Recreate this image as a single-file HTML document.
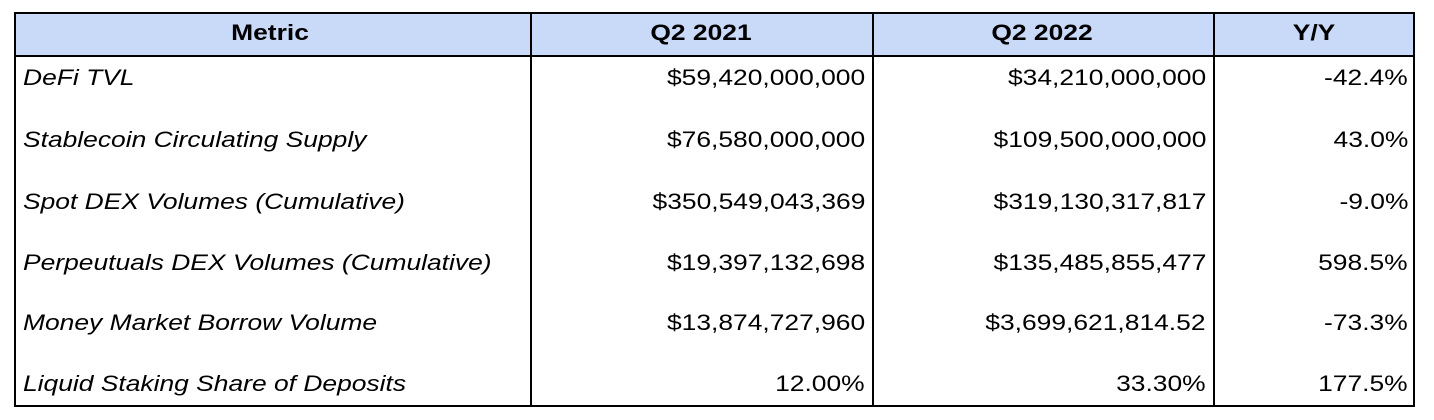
<!DOCTYPE html>
<html><head><style>
body{margin:0;width:1434px;height:420px;background:#fff;font-family:"Liberation Sans",sans-serif;position:relative;overflow:hidden}
.t{position:absolute;left:14px;top:12px;width:1401px;height:395px;border:2px solid #000;box-sizing:border-box}
.h{position:absolute;left:0;top:0;width:100%;height:41px;background:#c9daf8;border-bottom:2px solid #000}
.v{position:absolute;top:0;bottom:0;width:2px;background:#000}
.c{position:absolute;font-size:22px;color:#000;white-space:nowrap;line-height:24px}
.hd{font-weight:bold;top:21px;transform:translateX(-50%) scaleX(1.2)}
.m{font-style:italic;left:23px;transform:scaleX(1.2);transform-origin:left center}
.r{text-align:right;transform:scaleX(1.2);transform-origin:right center}
</style></head><body>
<div class="t"><div class="h"></div>
<div class="v" style="left:514px"></div>
<div class="v" style="left:856px"></div>
<div class="v" style="left:1197px"></div>
</div>
<div class="c hd" style="left:270px">Metric</div>
<div class="c hd" style="left:701px">Q2 2021</div>
<div class="c hd" style="left:1042px">Q2 2022</div>
<div class="c hd" style="left:1314px">Y/Y</div>

<div class="c m" style="top:66px">DeFi TVL</div>
<div class="c m" style="top:128px">Stablecoin Circulating Supply</div>
<div class="c m" style="top:190px">Spot DEX Volumes (Cumulative)</div>
<div class="c m" style="top:251px">Perpeutuals DEX Volumes (Cumulative)</div>
<div class="c m" style="top:311px">Money Market Borrow Volume</div>
<div class="c m" style="top:372px">Liquid Staking Share of Deposits</div>

<div class="c r" style="right:569px;top:66px">$59,420,000,000</div>
<div class="c r" style="right:569px;top:128px">$76,580,000,000</div>
<div class="c r" style="right:569px;top:190px">$350,549,043,369</div>
<div class="c r" style="right:569px;top:251px">$19,397,132,698</div>
<div class="c r" style="right:569px;top:311px">$13,874,727,960</div>
<div class="c r" style="right:569px;top:372px">12.00%</div>

<div class="c r" style="right:228px;top:66px">$34,210,000,000</div>
<div class="c r" style="right:228px;top:128px">$109,500,000,000</div>
<div class="c r" style="right:228px;top:190px">$319,130,317,817</div>
<div class="c r" style="right:228px;top:251px">$135,485,855,477</div>
<div class="c r" style="right:228px;top:311px">$3,699,621,814.52</div>
<div class="c r" style="right:228px;top:372px">33.30%</div>

<div class="c r" style="right:26px;top:66px">-42.4%</div>
<div class="c r" style="right:26px;top:128px">43.0%</div>
<div class="c r" style="right:26px;top:190px">-9.0%</div>
<div class="c r" style="right:26px;top:251px">598.5%</div>
<div class="c r" style="right:26px;top:311px">-73.3%</div>
<div class="c r" style="right:26px;top:372px">177.5%</div>
</body></html>
